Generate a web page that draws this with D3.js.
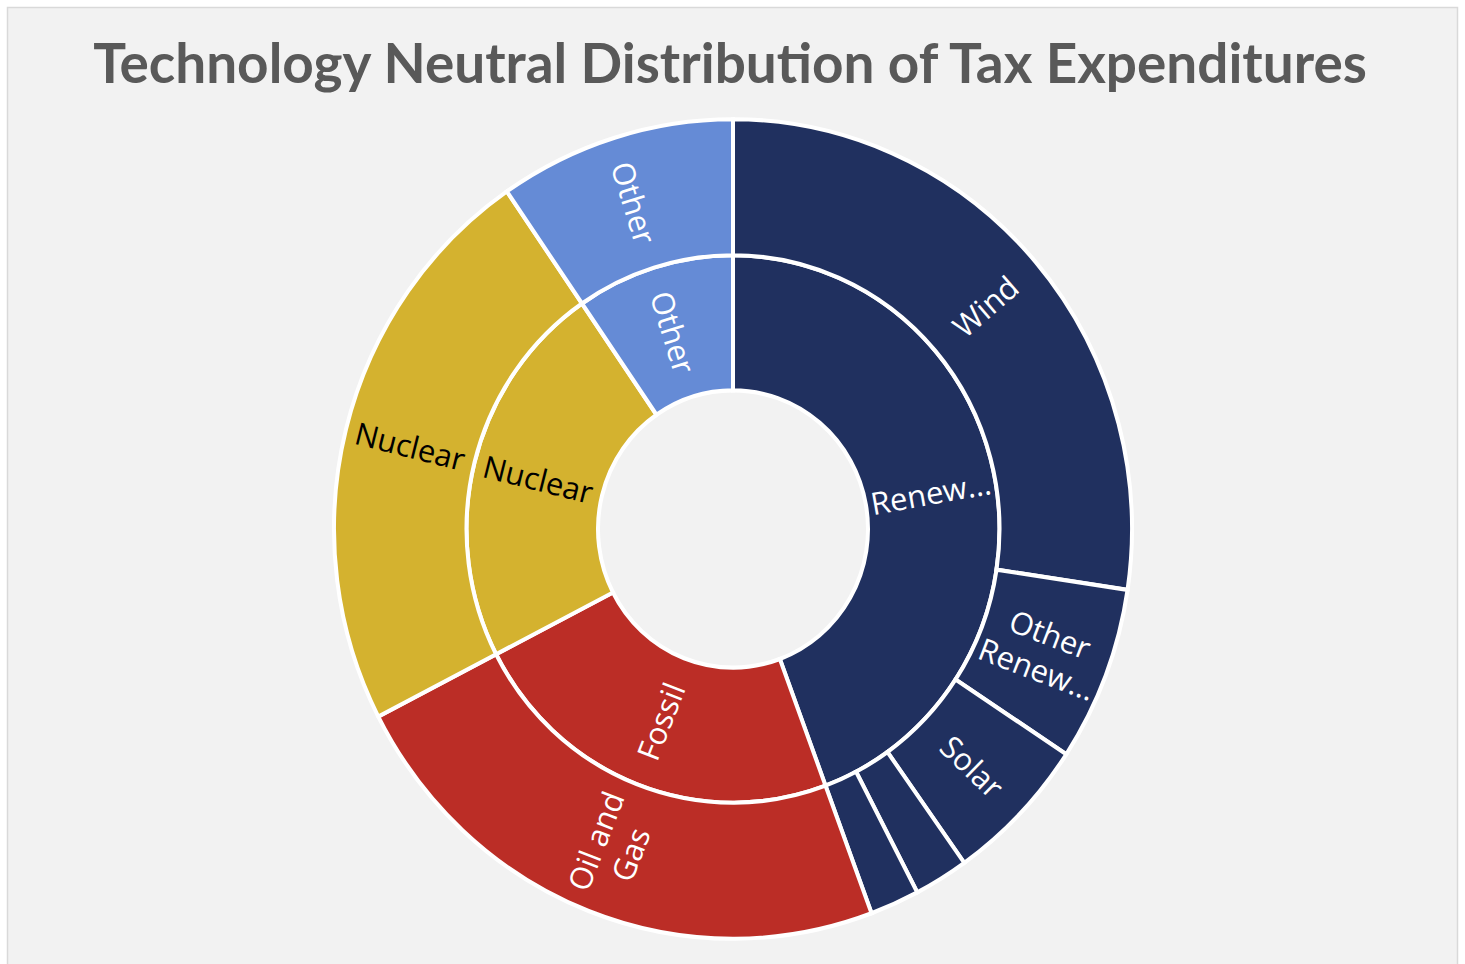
<!DOCTYPE html>
<html lang="en">
<head>
  <meta charset="UTF-8">
  <title>Technology Neutral Distribution of Tax Expenditures</title>
  <style>
body {
    margin: 0;
    background: #ffffff;
}

.title {
    fill: #595959;
    font-family: Lato, "Open Sans", sans-serif;
    font-weight: 700;
    text-anchor: middle;
}

.slice {
    stroke: #ffffff;
    stroke-width: 4px;
}

.label {
    font-family: "Open Sans", Lato, sans-serif;
    font-size: 31px;
    text-anchor: middle;
    dominant-baseline: central;
}
  </style>
</head>
<body>

<div id="wrapper"></div>

<script src="https://cdnjs.cloudflare.com/ajax/libs/d3/7.8.5/d3.min.js"></script>

<script>
  // DATA (shares of total, %)

  const groups      = ["Renewables", "Fossil", "Nuclear", "Other"]
  const groupColors = ["#20305f", "#bb2d26", "#d4b22f", "#658bd6"]
  const groupText   = ["#ffffff", "#ffffff", "#000000", "#ffffff"]

  // second ring, read clockwise from 12 o'clock
  const technologies = ["Wind", "Other Renewables", "Solar", "Minor renewable A", "Minor renewable B",
                        "Oil and Gas", "Nuclear", "Other"]
  const techGroup    = ["Renewables", "Renewables", "Renewables", "Renewables", "Renewables",
                        "Fossil", "Nuclear", "Other"]
  const techShare    = [27.4, 6.9, 5.9, 2.2, 2.0, 23.1, 23.0, 9.6]

  const title = "Technology Neutral Distribution of Tax Expenditures"

  function drawSunburst() {

    const dimensions = {
      width: 1465,
      height: 964,
      cx: 733,
      cy: 529,
      yStretch: 1.027,   // picture is slightly taller than wide
    }
    const ringRadius = [135, 266.5, 399]

    const wrapper = d3.select("#wrapper")
      .append("svg")
      .attr("width", dimensions.width)
      .attr("height", dimensions.height)

    // panel
    wrapper.append("rect")
      .attr("x", 7.5)
      .attr("y", 7.5)
      .attr("width", 1450)
      .attr("height", 964)
      .attr("fill", "#f2f2f2")
      .attr("stroke", "#d9d9d9")
      .attr("stroke-width", 1.5)

    // title, sized to the reference width
    const titleText = wrapper.append("text")
      .attr("class", "title")
      .attr("x", 730)
      .attr("y", 83)
      .style("font-size", "54px")
      .text(title)
    const tw = titleText.node().getComputedTextLength()
    titleText.style("font-size", (54 * 1274 / tw) + "px")

    // HIERARCHY
    const tree = {
      name: "root",
      children: groups.map(g => ({
        name: g,
        children: technologies
          .map((t, i) => ({ name: t, value: techShare[i], group: techGroup[i] }))
          .filter(d => d.group === g)
      }))
    }

    const root = d3.hierarchy(tree)
      .sum(d => d.value || 0)

    d3.partition()
      .size([2 * Math.PI, 3])(root)

    const radius = d3.scaleOrdinal()
      .domain([1, 2, 3])
      .range(ringRadius)

    const groupOf = d => d.depth === 1 ? d.data.name : d.parent.data.name
    const colorScale = d3.scaleOrdinal().domain(groups).range(groupColors)
    const textScale  = d3.scaleOrdinal().domain(groups).range(groupText)

    const arc = d3.arc()
      .startAngle(d => d.x0)
      .endAngle(d => d.x1)
      .innerRadius(d => radius(d.depth))
      .outerRadius(d => radius(d.depth + 1))

    const nodes = root.descendants().filter(d => d.depth > 0)

    const bounds = wrapper.append("g")
      .attr("transform", `translate(${dimensions.cx},${dimensions.cy}) scale(1,${dimensions.yStretch})`)

    bounds.selectAll(".slice")
      .data(nodes)
      .enter().append("path")
        .attr("class", "slice")
        .attr("fill", d => colorScale(groupOf(d)))
        .attr("d", arc)

    // LABELS
    const labels = wrapper.append("g")
      .attr("transform", `translate(${dimensions.cx},${dimensions.cy})`)

    const measurer = labels.append("text").attr("class", "label")
    const measure = s => { measurer.text(s); return measurer.node().getComputedTextLength() }

    function fitLines(name, maxWidth) {
      const words = name.split(" ")
      const lines = []
      let line = ""
      words.forEach(w => {
        const test = line ? line + " " + w : w
        if (measure(test) <= maxWidth || !line) line = test
        else { lines.push(line); line = w }
      })
      lines.push(line)
      return lines.map(l => {
        if (measure(l) <= maxWidth) return l
        let s = l
        while (s.length > 1 && measure(s + "...") > maxWidth) s = s.slice(0, -1)
        return s + "..."
      })
    }

    nodes.forEach(d => {
      if (d.x1 - d.x0 < 0.2) return   // too thin for a label
      const a = (d.x0 + d.x1) / 2
      const r = (radius(d.depth) + radius(d.depth + 1)) / 2
      const x = r * Math.sin(a)
      const y = -r * Math.cos(a) * dimensions.yStretch
      const deg = a * 180 / Math.PI
      const rot = deg < 180 ? deg - 90 : deg + 90
      const lines = fitLines(d.data.name, radius(d.depth + 1) - radius(d.depth) - 6)

      const t = labels.append("text")
        .attr("class", "label")
        .attr("transform", `translate(${x},${y}) rotate(${rot})`)
        .attr("fill", textScale(groupOf(d)))

      lines.forEach((l, i) => {
        t.append("tspan")
          .attr("x", 0)
          .attr("dy", i === 0 ? (-(lines.length - 1) * 0.6) + "em" : "1.2em")
          .text(l)
      })
    })

    measurer.remove()
  }
  drawSunburst();
</script>

</body>
</html>
